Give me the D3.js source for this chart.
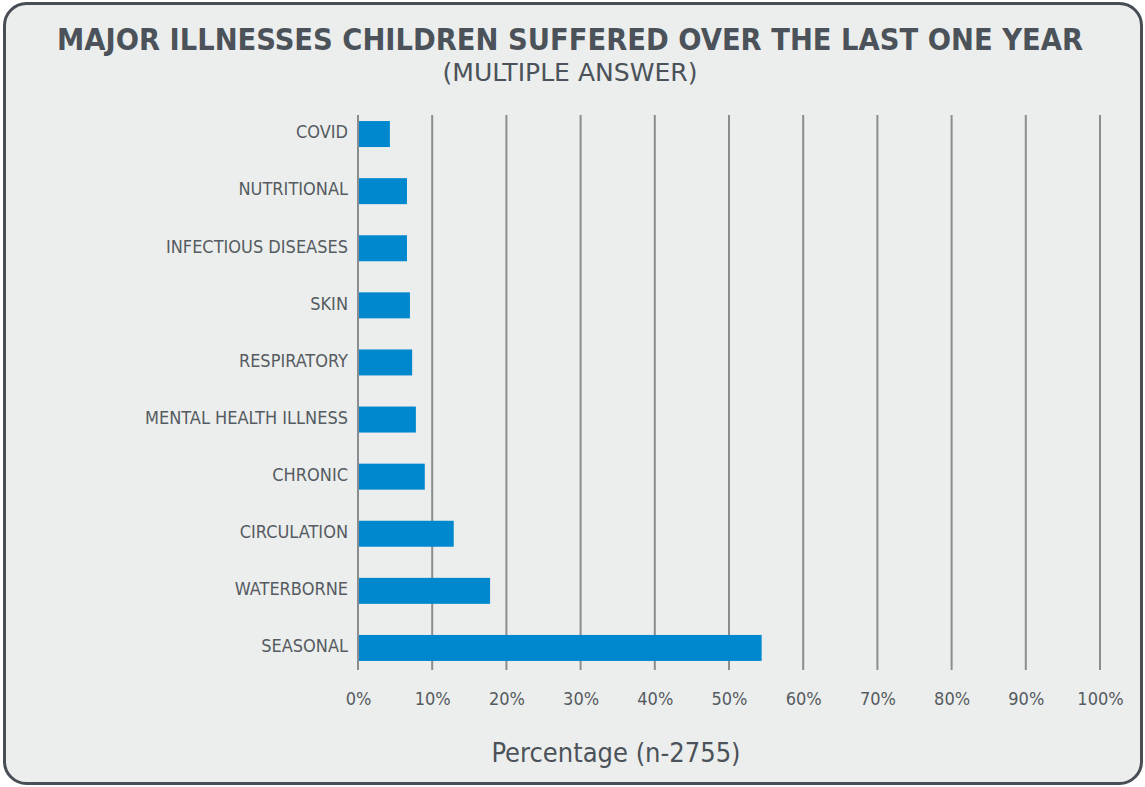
<!DOCTYPE html>
<html>
<head>
<meta charset="utf-8">
<script src="https://cdn.jsdelivr.net/npm/d3@7"></script>
<style>
  html, body { margin: 0; padding: 0; background: #ffffff; }
  svg { display: block; }
</style>
</head>
<body>
<svg id="chart" width="1145" height="787"></svg>
<script>
// Illness categories, top to bottom, and share of respondents (%)
const categories = ["COVID", "NUTRITIONAL", "INFECTIOUS DISEASES", "SKIN", "RESPIRATORY",
  "MENTAL HEALTH ILLNESS", "CHRONIC", "CIRCULATION", "WATERBORNE", "SEASONAL"];
const values = [4.3, 6.6, 6.6, 7.0, 7.3, 7.8, 9.0, 12.9, 17.8, 54.4];
const tickValues = [0, 10, 20, 30, 40, 50, 60, 70, 80, 90, 100];

const titleText = "MAJOR ILLNESSES CHILDREN SUFFERED OVER THE LAST ONE YEAR";
const subtitleText = "(MULTIPLE ANSWER)";
const axisTitle = "Percentage (n-2755)";

const svg = d3.select("#chart");
const textColor = "#4b5259";
const labelColor = "#555b61";
const gridColor = "#8a8c90";
const barColor = "#0088cf";
const font = "'DejaVu Sans Condensed', 'Roboto', sans-serif";

// Panel with rounded border
svg.append("rect")
  .attr("x", 4.5).attr("y", 3.5)
  .attr("width", 1137).attr("height", 780)
  .attr("rx", 22).attr("ry", 22)
  .attr("fill", "#eceeed")
  .attr("stroke", "#474e56")
  .attr("stroke-width", 3);

// Fit a text to a set width when its natural width is close to it
function fitText(sel, width) {
  const natural = sel.node().getComputedTextLength();
  if (Math.abs(natural - width) / width < 0.12) {
    sel.attr("textLength", width).attr("lengthAdjust", "spacingAndGlyphs");
  }
  return sel;
}

// Titles
const title = svg.append("text")
  .attr("x", 570).attr("y", 50)
  .attr("text-anchor", "middle")
  .attr("font-family", font)
  .attr("font-weight", "bold")
  .attr("font-size", 30.5)
  .attr("fill", textColor)
  .text(titleText);
fitText(title, 1026);

const subtitle = svg.append("text")
  .attr("x", 570).attr("y", 81)
  .attr("text-anchor", "middle")
  .attr("font-family", font)
  .attr("font-size", 25)
  .attr("fill", textColor)
  .text(subtitleText);
fitText(subtitle, 255);

// Scales
const x = d3.scaleLinear().domain([0, 100]).range([358, 1100]);
const y = d3.scaleBand().domain(categories).range([105.5, 676.5]).paddingInner(0.545).paddingOuter(0.2725);

const gridTop = 115, gridBottom = 670;

// Vertical grid lines
svg.append("g")
  .selectAll("line")
  .data(tickValues)
  .join("line")
  .attr("x1", d => x(d)).attr("x2", d => x(d))
  .attr("y1", gridTop).attr("y2", gridBottom)
  .attr("stroke", gridColor)
  .attr("stroke-width", 2);

// Bars
svg.append("g")
  .selectAll("rect")
  .data(categories.map((c, i) => ({ c, v: values[i] })))
  .join("rect")
  .attr("x", x(0) + 1)
  .attr("y", d => y(d.c))
  .attr("width", d => x(d.v) - x(0) - 1)
  .attr("height", y.bandwidth())
  .attr("fill", barColor);

// Category labels
const yAxis = d3.axisLeft(y).tickSize(0).tickPadding(10);
const yg = svg.append("g").attr("transform", `translate(${x(0)},0)`).call(yAxis);
yg.select(".domain").remove();
yg.selectAll("text")
  .attr("font-family", font)
  .attr("font-size", 18)
  .attr("fill", labelColor)
  .attr("y", -2)
  .attr("dy", "0.35em");

// Percentage tick labels
const xAxis = d3.axisBottom(x).tickValues(tickValues).tickFormat(d => d + "%").tickSize(0).tickPadding(0);
const xg = svg.append("g").attr("transform", `translate(0,${gridBottom})`).call(xAxis);
xg.select(".domain").remove();
xg.selectAll("text")
  .attr("font-family", font)
  .attr("font-size", 18)
  .attr("fill", labelColor)
  .attr("y", 35)
  .attr("dy", 0);

// Axis title
svg.append("text")
  .attr("x", 616).attr("y", 762)
  .attr("text-anchor", "middle")
  .attr("font-family", font)
  .attr("font-size", 27)
  .attr("fill", textColor)
  .text(axisTitle);
</script>
</body>
</html>
